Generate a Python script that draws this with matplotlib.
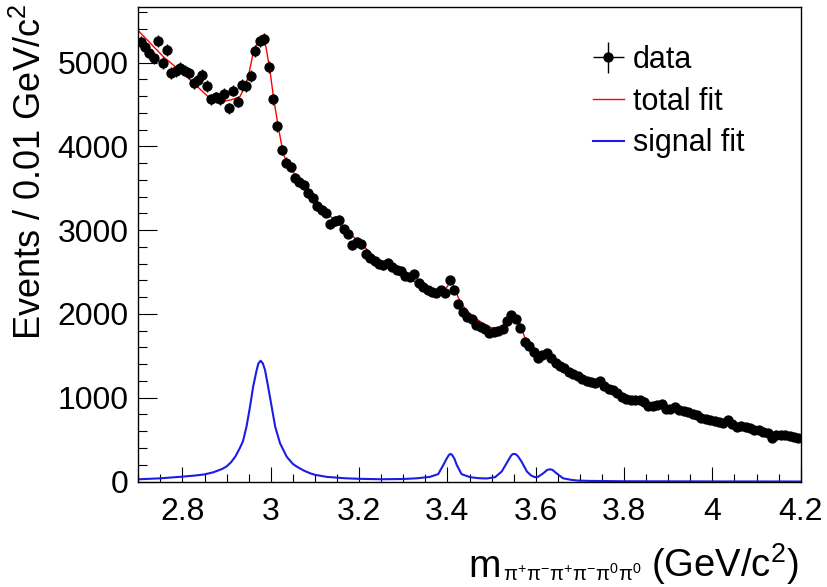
import matplotlib
matplotlib.use('Agg')
import matplotlib.pyplot as plt
import numpy as np
from matplotlib.ticker import MultipleLocator

# ---------------- data ----------------
bin_start = 2.70
bin_width = 0.01
counts = [
    5248, 5189, 5110, 5050, 5260, 4998, 5149, 4878, 4902, 4931,
    4905, 4871, 4752, 4791, 4851, 4720, 4561, 4585, 4561, 4624,
    4453, 4664, 4532, 4731, 4720, 4839, 5141, 5260, 5277, 4950,
    4561, 4242, 3956, 3806, 3757, 3620, 3580, 3540, 3440, 3380,
    3290, 3240, 3210, 3070, 3110, 3120, 3010, 2960, 2820, 2860,
    2830, 2720, 2670, 2630, 2600, 2580, 2610, 2560, 2530, 2510,
    2450, 2440, 2480, 2370, 2320, 2290, 2260, 2250, 2280, 2250,
    2400, 2290, 2120, 2020, 1960, 1940, 1870, 1850, 1820, 1770,
    1790, 1800, 1820, 1910, 1990, 1940, 1830, 1670, 1620, 1550,
    1470, 1510, 1530, 1480, 1420, 1380, 1350, 1310, 1280, 1260,
    1220, 1200, 1190, 1170, 1200, 1140, 1110, 1090, 1060, 1010,
    990, 975, 970, 970, 950, 905, 900, 915, 930, 870,
    860, 890, 855, 845, 830, 805, 790, 760, 750, 735,
    720, 710, 695, 735, 690, 655, 660, 650, 635, 620,
    610, 595, 580, 520, 560, 555, 555, 540, 530, 515,
]

fit_mass = [2.700, 2.757, 2.802, 2.862, 2.880, 2.895, 2.910, 2.930, 2.940, 2.949,
            2.960, 2.972, 2.982, 2.989, 2.998, 3.007, 3.017, 3.028, 3.040, 3.066,
            3.100, 3.150, 3.200, 3.250, 3.300, 3.350, 3.380, 3.390, 3.400, 3.407,
            3.415, 3.425, 3.440, 3.460, 3.480, 3.500, 3.520, 3.535, 3.550, 3.560,
            3.565, 3.575, 3.585, 3.595, 3.605, 3.615, 3.625, 3.632, 3.640, 3.650,
            3.660, 3.700, 3.750, 3.800, 3.850, 3.900, 3.950, 4.000, 4.050, 4.100,
            4.150, 4.200]
fit_total = [5380, 5069, 4871, 4573, 4545, 4540, 4555, 4592, 4700, 4831,
             5110, 5269, 5328, 5189, 4910, 4553, 4234, 3917, 3757, 3598,
             3340, 3090, 2860, 2610, 2460, 2310, 2250, 2255, 2330, 2385,
             2330, 2190, 2060, 1960, 1890, 1835, 1840, 1910, 1975, 1930,
             1870, 1720, 1620, 1550, 1500, 1490, 1510, 1515, 1490, 1440,
             1400, 1250, 1155, 1030, 940, 870, 800, 735, 670, 615,
             560, 515]

sig_mass = [2.700, 2.750, 2.800, 2.830, 2.850, 2.870, 2.890, 2.900, 2.910, 2.920,
            2.930, 2.937, 2.945, 2.953, 2.960, 2.968, 2.972, 2.977, 2.982, 2.987,
            2.994, 3.002, 3.010, 3.021, 3.030, 3.036, 3.050, 3.059, 3.075, 3.089,
            3.100, 3.127, 3.145, 3.170, 3.200, 3.250, 3.300, 3.330, 3.360, 3.379,
            3.391, 3.398, 3.403, 3.407, 3.411, 3.416, 3.421, 3.432, 3.451, 3.470,
            3.489, 3.508, 3.523, 3.536, 3.543, 3.547, 3.551, 3.555, 3.560, 3.568,
            3.580, 3.590, 3.598, 3.605, 3.617, 3.626, 3.632, 3.638, 3.647, 3.662,
            3.680, 3.693, 3.720, 3.800, 4.000, 4.200]
sig_fit = [26, 38, 58, 72, 85, 110, 150, 180, 230, 300,
           400, 480, 654, 893, 1131, 1330, 1410, 1441, 1410, 1330,
           1131, 893, 654, 456, 360, 296, 210, 177, 130, 98,
           80, 55, 48, 38, 32, 27, 30, 38, 55, 88,
           199, 270, 315, 330, 315, 270, 199, 88, 52, 40,
           36, 52, 119, 236, 300, 325, 330, 325, 300, 236,
           119, 70, 52, 55, 98, 138, 146, 138, 98, 38,
           20, 12, 7, 3, 1, 0]

x_tick_values = [2.8, 3.0, 3.2, 3.4, 3.6, 3.8, 4.0, 4.2]
x_tick_labels = ['2.8', '3', '3.2', '3.4', '3.6', '3.8', '4', '4.2']
y_tick_values = [0, 1000, 2000, 3000, 4000, 5000]
y_tick_labels = ['0', '1000', '2000', '3000', '4000', '5000']

# ---------------- figure ----------------
plt.rcParams['font.family'] = ['Liberation Sans', 'DejaVu Sans']
plt.rcParams['mathtext.fontset'] = 'custom'
plt.rcParams['mathtext.rm'] = 'Liberation Sans'
plt.rcParams['mathtext.it'] = 'Liberation Sans:italic'
plt.rcParams['mathtext.bf'] = 'Liberation Sans:bold'

W, H = 827, 587
fig = plt.figure(figsize=(W / 100, H / 100), dpi=100)
left, right, top, bottom = 138.3, 800.7, 7.3, 481.5
ax = fig.add_axes([left / W, 1 - bottom / H, (right - left) / W, (bottom - top) / H])

counts_arr = np.array(counts, dtype=float)
mass = bin_start + bin_width * (np.arange(len(counts)) + 0.5)

ax.plot(fit_mass, fit_total, color='red', lw=1.0, zorder=2, label='total fit')
ax.plot(sig_mass, sig_fit, color='#1c1ce6', lw=1.5, zorder=2, label='signal fit')
ax.errorbar(mass, counts_arr, yerr=np.sqrt(counts_arr), xerr=bin_width / 2,
            fmt='o', color='black', ms=6.4, elinewidth=1.0, capsize=0,
            zorder=3, label='data')

ax.set_xlim(2.7, 4.2)
ax.set_ylim(0, 5660)
ax.set_xticks(x_tick_values)
ax.set_xticklabels(x_tick_labels)
ax.set_yticks(y_tick_values)
ax.set_yticklabels(y_tick_labels)
ax.xaxis.set_minor_locator(MultipleLocator(0.05))
ax.yaxis.set_minor_locator(MultipleLocator(200))

ax.tick_params(which='both', direction='in', top=False, right=False, width=0.8, color='black')
ax.tick_params(axis='x', which='major', length=11, labelsize=23, pad=11.5)
ax.tick_params(axis='x', which='minor', length=6)
ax.tick_params(axis='y', which='major', length=13.5, labelsize=23, pad=7)
ax.tick_params(axis='y', which='minor', length=6.5)
for s in ax.spines.values():
    s.set_linewidth(1.0)

handles, labels = ax.get_legend_handles_labels()
order = [labels.index('data'), labels.index('total fit'), labels.index('signal fit')]
ax.legend([handles[i] for i in order], [labels[i] for i in order],
          loc='upper left', bbox_to_anchor=(593 / W, 1 - 45 / H),
          bbox_transform=fig.transFigure, frameon=False, fontsize=22,
          handlelength=1.0, handletextpad=0.3, labelspacing=0.38,
          borderpad=0, borderaxespad=0)

fig.text(31 / W, 1 - 4 / H, 'Events / 0.01 GeV/c$^{2}$', rotation=90,
         ha='center', va='top', fontsize=26)
# x-axis title: "m" with a small subscript, then the unit
fig.text(501 / W, 1 - 577 / H, 'm', ha='right', va='baseline', fontsize=28)
fig.text(503 / W, 1 - 581 / H,
         r'$\mathrm{\pi^{+}\pi^{-}\pi^{+}\pi^{-}\pi^{0}\pi^{0}}$',
         ha='left', va='baseline', fontsize=14.7)
fig.text(799 / W, 1 - 577 / H, '(GeV/c$^{2}$)',
         ha='right', va='baseline', fontsize=27.5)

fig.savefig('out.png', dpi=100)
